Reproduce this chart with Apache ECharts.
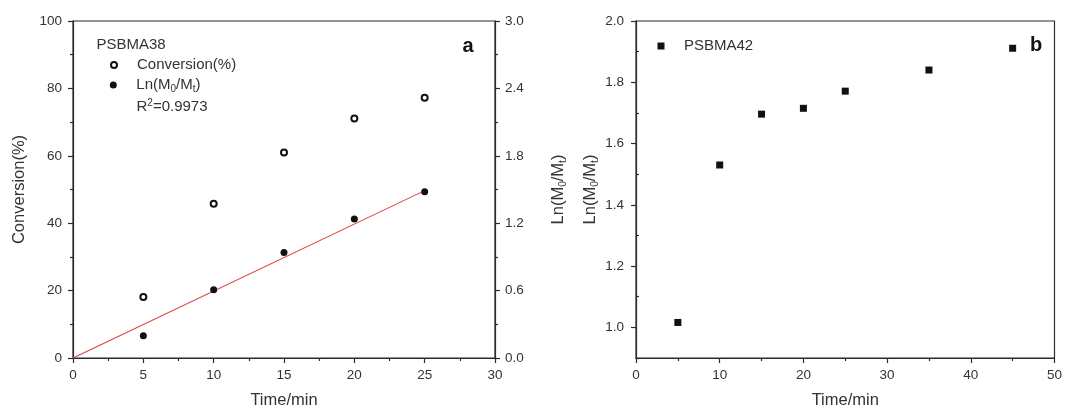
<!DOCTYPE html>
<html><head><meta charset="utf-8">
<script src="https://cdn.jsdelivr.net/npm/echarts@6/dist/echarts.min.js"></script>
<style>html,body{margin:0;padding:0;background:#fff}#c{width:1065px;height:414px}</style>
</head><body><div id="c"></div>
<script>
// ---- data ----
const timeA = [5, 10, 15, 20, 25];
const conversionA = [18.1, 45.8, 61.0, 71.1, 77.2];
const lnA = [0.197, 0.607, 0.940, 1.237, 1.481];
const fitTime = [0, 25];
const fitLn = [0, 1.49];
const timeB = [5, 10, 15, 20, 25, 35, 45];
const lnB = [1.016, 1.530, 1.696, 1.715, 1.771, 1.840, 1.911];
const yTicksB = [1.0, 1.2, 1.4, 1.6, 1.8, 2.0];
const yMinorB = [0.9, 1.1, 1.3, 1.5, 1.7, 1.9];

const FONT = 'Liberation Sans, Arial, sans-serif';
const AX = '#2b2b2b';
const TXT = '#333';
const tickFs = 13.5, nameFs = 16.5;
const rich = {
  s: {fontSize: 10, fontFamily: FONT, color: TXT, verticalAlign: 'bottom', lineHeight: 10},
  n: {fontSize: nameFs, fontFamily: FONT, color: TXT, lineHeight: 20}
};
const legRich = {
  s: {fontSize: 10, fontFamily: FONT, color: TXT, verticalAlign: 'bottom', lineHeight: 10},
  n: {fontSize: 15, fontFamily: FONT, color: TXT, lineHeight: 18}
};

function valAxis(o) {
  return Object.assign({
    type: 'value',
    axisLine: {show: true, onZero: false, lineStyle: {color: AX, width: 1.2}},
    axisTick: {show: true, inside: false, length: 5, lineStyle: {color: AX, width: 1.2}},
    minorTick: {show: true, splitNumber: 2, length: 3, lineStyle: {color: AX, width: 1.2}},
    splitLine: {show: false},
    axisLabel: {color: TXT, fontSize: tickFs, fontFamily: FONT, margin: 10},
    nameLocation: 'middle',
    nameTextStyle: {color: TXT, fontSize: nameFs, fontFamily: FONT, rich: rich}
  }, o);
}

const chart = echarts.init(document.getElementById('c'), null, {renderer: 'canvas'});
chart.setOption({
  animation: false,
  backgroundColor: '#fff',
  grid: [
    {left: 73, top: 21, width: 422, height: 340, show: true, borderColor: AX, borderWidth: 1.2},
    {left: 636, top: 21, width: 423, height: 340, show: true, borderColor: AX, borderWidth: 1.2}
  ],
  xAxis: [
    valAxis({gridIndex: 0, min: 0, max: 30, interval: 5, name: 'Time/min', nameGap: 34}),
    valAxis({gridIndex: 1, min: 0, max: 50, interval: 10, name: 'Time/min', nameGap: 34})
  ],
  yAxis: [
    valAxis({gridIndex: 0, min: 0, max: 100, interval: 20, name: 'Conversion(%)', nameGap: 45,
      axisLabel: {color: TXT, fontSize: tickFs, fontFamily: FONT, margin: 11}}),
    valAxis({gridIndex: 0, position: 'right', min: 0, max: 3, interval: 0.6,
      name: '{n|Ln(M}{s|0}{n|/M}{s|t}{n|)}', nameGap: 53,
      axisLabel: {color: TXT, fontSize: tickFs, fontFamily: FONT, margin: 10, formatter: v => v.toFixed(1)}}),
    valAxis({gridIndex: 1, min: 0.9, max: 2.0,
      name: '{n|Ln(M}{s|0}{n|/M}{s|t}{n|)}', nameGap: 36,
      minorTick: {show: false},
      axisTick: {show: true, length: 5, customValues: yTicksB, lineStyle: {color: AX, width: 1.2}},
      axisLabel: {color: TXT, fontSize: tickFs, fontFamily: FONT, margin: 12, customValues: yTicksB, formatter: v => v.toFixed(1)}}),
    valAxis({gridIndex: 1, min: 0.9, max: 2.0, name: '',
      axisLine: {show: false},
      minorTick: {show: false},
      axisTick: {show: true, length: 3, customValues: yMinorB, lineStyle: {color: AX, width: 1.2}},
      axisLabel: {show: false, customValues: yMinorB}})
  ],
  legend: [
    {data: ['Conversion(%)'], left: 110, top: 56, padding: 0, itemWidth: 6, itemHeight: 6, selectedMode: false,
      textStyle: {color: TXT, fontSize: 15, fontFamily: FONT, lineHeight: 18, padding: [0, 0, 0, 15]}},
    {data: ['Ln(M0/Mt)'], left: 109.8, top: 76, padding: 0, itemWidth: 7, itemHeight: 7, selectedMode: false,
      formatter: () => '{n|Ln(M}{s|0}{n|/M}{s|t}{n|)}',
      textStyle: {color: TXT, fontSize: 15, fontFamily: FONT, lineHeight: 18, padding: [0, 0, 0, 14.5], rich: legRich}},
    {data: ['PSBMA42'], left: 657.5, top: 37, padding: 0, itemWidth: 7, itemHeight: 7, selectedMode: false,
      textStyle: {color: TXT, fontSize: 15, fontFamily: FONT, lineHeight: 18, padding: [0, 0, 0, 14.5]}}
  ],
  graphic: [
    {type: 'text', x: 96.5, y: 45, style: {text: 'PSBMA38', fill: TXT, font: '15px ' + FONT, verticalAlign: 'middle', align: 'left'}},
    {type: 'text', x: 136.5, y: 107, style: {
      text: '{n|R}{p|2}{n|=0.9973}', verticalAlign: 'middle', align: 'left',
      rich: {n: {fontSize: 15, fontFamily: FONT, fill: TXT, lineHeight: 18},
             p: {fontSize: 10, fontFamily: FONT, fill: TXT, verticalAlign: 'top', lineHeight: 10}}}},
    {type: 'text', x: 468, y: 46, style: {text: 'a', fill: '#111', font: 'bold 20px ' + FONT, verticalAlign: 'middle', align: 'center'}},
    {type: 'text', x: 1036, y: 45, style: {text: 'b', fill: '#111', font: 'bold 20px ' + FONT, verticalAlign: 'middle', align: 'center'}}
  ],
  series: [
    {name: 'Conversion(%)', type: 'scatter', xAxisIndex: 0, yAxisIndex: 0, symbol: 'emptyCircle', symbolSize: 6,
      itemStyle: {color: '#111', borderWidth: 1, opacity: 1}, z: 3,
      data: timeA.map((t, i) => [t, conversionA[i]])},
    {name: 'fit', type: 'line', xAxisIndex: 0, yAxisIndex: 1, showSymbol: false, symbol: 'none',
      lineStyle: {color: '#e0403c', width: 1.1}, z: 2,
      data: fitTime.map((t, i) => [t, fitLn[i]])},
    {name: 'Ln(M0/Mt)', type: 'scatter', xAxisIndex: 0, yAxisIndex: 1, symbol: 'circle', symbolSize: 7,
      itemStyle: {color: '#111', opacity: 1}, z: 4,
      data: timeA.map((t, i) => [t, lnA[i]])},
    {name: 'PSBMA42', type: 'scatter', xAxisIndex: 1, yAxisIndex: 2, symbol: 'rect', symbolSize: 7,
      itemStyle: {color: '#111', opacity: 1}, z: 4,
      data: timeB.map((t, i) => [t, lnB[i]])}
  ]
});
</script></body></html>
